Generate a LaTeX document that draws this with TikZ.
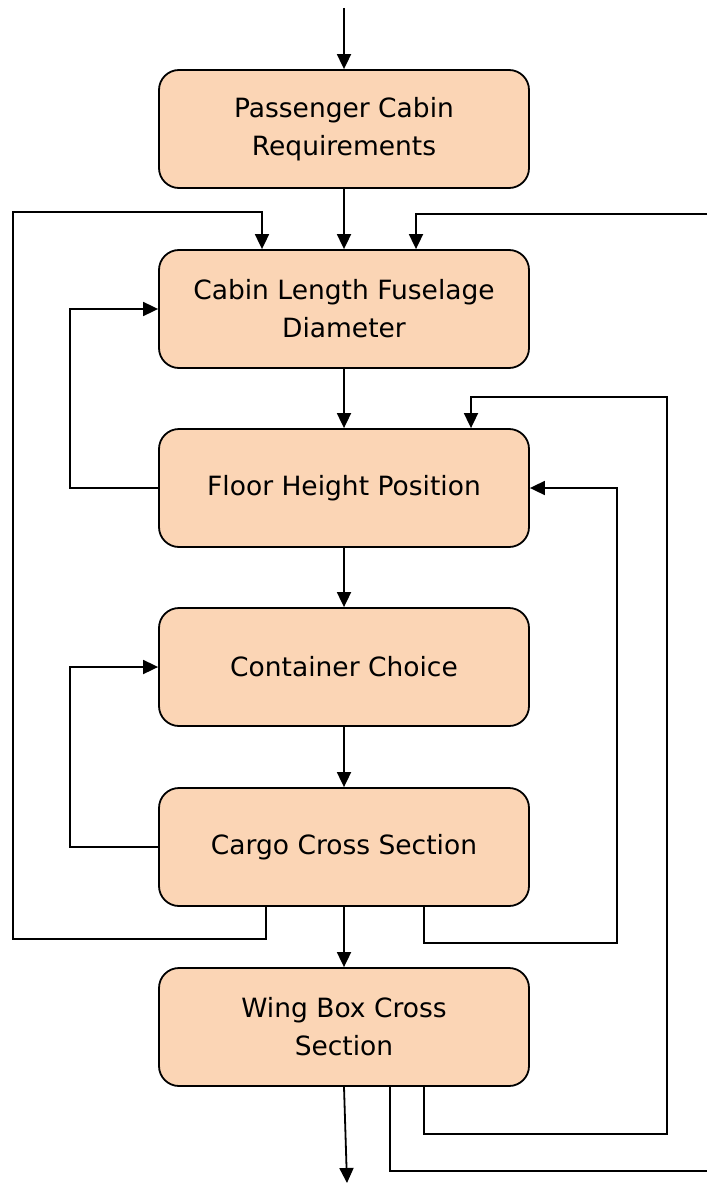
\documentclass[tikz,border=0pt]{standalone}
\usepackage{fontspec}
\setmainfont{DejaVu Sans}
\usetikzlibrary{arrows.meta,calc}
\definecolor{peach}{HTML}{FBD5B5}
\tikzset{
  stage/.style={draw=black, line width=1.8pt, fill=peach, rounded corners=20pt,
    minimum width=370pt, minimum height=118pt, align=center,
    font=\fontsize{26.5}{38}\selectfont, inner sep=0pt},
  link/.style={line width=1.8pt, draw=black},
  arr/.style={link, -{Triangle[length=15pt,width=14pt]}}
}
\begin{document}
\begin{tikzpicture}[x=1pt,y=-1pt]
\useasboundingbox (0,0) rectangle (707,1185);

% process stages
\node[stage] (b1) at (344,129)  {Passenger Cabin\\Requirements};
\node[stage] (b2) at (344,309)  {Cabin Length Fuselage\\Diameter};
\node[stage] (b3) at (344,488)  {Floor Height Position};
\node[stage] (b4) at (344,667)  {Container Choice};
\node[stage] (b5) at (344,847)  {Cargo Cross Section};
\node[stage] (b6) at (344,1027) {Wing Box Cross\\Section};

% free ends
\coordinate (start) at (344,8);
\coordinate (finish) at (347,1183);
\coordinate (outA) at (707,214);
\coordinate (outB) at (707,1171);

% main flow
\draw[arr] (start) -- (b1.north);
\draw[arr] (b1.south) -- (b2.north);
\draw[arr] (b2.south) -- (b3.north);
\draw[arr] (b3.south) -- (b4.north);
\draw[arr] (b4.south) -- (b5.north);
\draw[arr] (b5.south) -- (b6.north);
\draw[arr] (b6.south) -- (finish);

% short feedback loops on the left
\draw[arr] (b3.west) -- ++(-88,0) |- (b2.west);
\draw[arr] (b5.west) -- ++(-88,0) |- (b4.west);

% long feedback loop on the left
\draw[arr] ($(b5.south)+(-78,0)$) -- ++(0,32) -| (13,212) -| ($(b2.north)+(-82,0)$);

% feedback loops on the right
\draw[arr] ($(b5.south)+(80,0)$) |- (617,943) |- (b3.east);
\draw[arr] ($(b6.south)+(80,0)$) |- (667,1134) |- (471,397) -- ($(b3.north)+(127,0)$);
\draw[link] ($(b6.south)+(46,0)$) |- (outB);
\draw[arr] (outA) -| ($(b2.north)+(72,0)$);
\end{tikzpicture}
\end{document}
